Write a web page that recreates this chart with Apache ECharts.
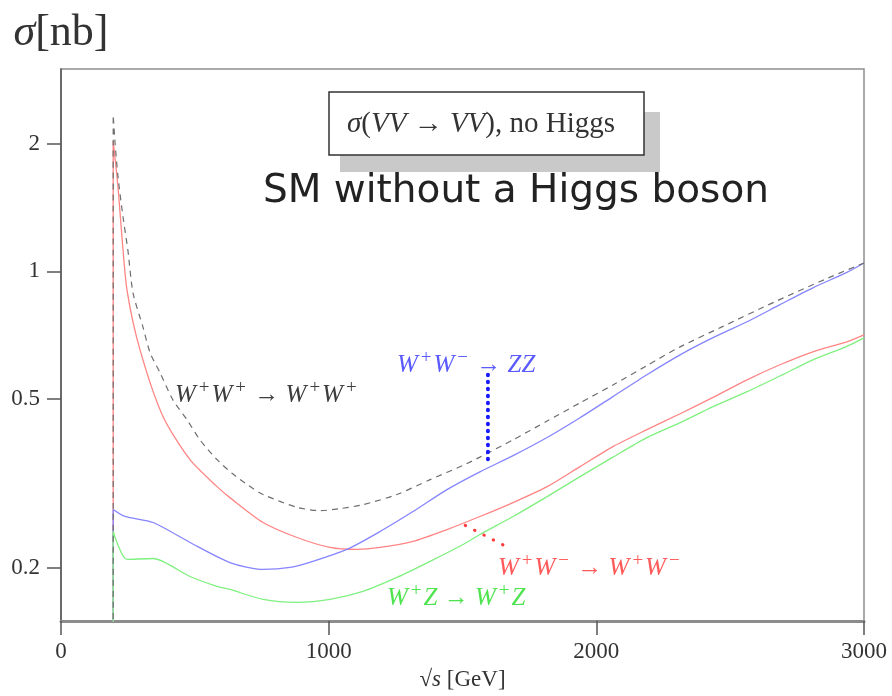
<!DOCTYPE html>
<html>
<head>
<meta charset="utf-8">
<script src="https://cdn.jsdelivr.net/npm/echarts@6/dist/echarts.min.js"></script>
<style>
  html, body { margin: 0; padding: 0; background: #ffffff; }
  #chart { width: 892px; height: 696px; }
</style>
</head>
<body>
<div id="chart"></div>
<script>
// Cross sections sigma(VV -> VV) without a Higgs boson.
// Energies are sqrt(s) in GeV, cross sections in nb. Each curve starts with a
// vertical rise at the production threshold (first point lies below the axis).

const xTicks = [0, 1000, 2000, 3000];
const yTicks = [0.2, 0.5, 1, 2];

// W+W+ -> W+W+ (dashed grey)
const wpwpEnergy = [195, 195, 202, 213, 232, 250, 269, 306, 333, 370, 418, 471, 519, 583, 640, 700, 755, 882, 968, 1042, 1128, 1255, 1379, 1502, 1565, 1689, 1816, 1939, 2062, 2189, 2313, 2469, 2667, 2866, 3000];
const wpwpSigma  = [0.10, 2.335, 2.01, 1.67, 1.34, 1.12, 0.89, 0.74, 0.643, 0.577, 0.498, 0.447, 0.401, 0.360, 0.334, 0.313, 0.298, 0.278, 0.273, 0.276, 0.282, 0.298, 0.323, 0.349, 0.365, 0.401, 0.444, 0.490, 0.540, 0.600, 0.664, 0.740, 0.848, 0.965, 1.047];

// W+W- -> W+W- (red)
const wwEnergy = [195, 195, 213, 228, 247, 295, 381, 482, 583, 631, 755, 882, 1005, 1106, 1192, 1315, 1442, 1565, 1689, 1816, 1939, 2062, 2189, 2313, 2436, 2563, 2686, 2809, 2936, 3000];
const wwSigma  = [0.10, 2.03, 1.58, 1.20, 0.90, 0.654, 0.455, 0.360, 0.311, 0.293, 0.256, 0.236, 0.2236, 0.2212, 0.2236, 0.231, 0.2464, 0.2645, 0.2853, 0.311, 0.3467, 0.3864, 0.4237, 0.462, 0.505, 0.5554, 0.6026, 0.6466, 0.6826, 0.7087];

// W+W- -> ZZ (blue)
const zzEnergy = [195, 195, 239, 344, 482, 631, 755, 856, 941, 1068, 1192, 1315, 1442, 1565, 1689, 1816, 1939, 2062, 2189, 2313, 2436, 2563, 2686, 2809, 2936, 3000];
const zzSigma  = [0.10, 0.2747, 0.2645, 0.256, 0.2297, 0.206, 0.1984, 0.2006, 0.2073, 0.2212, 0.2438, 0.2717, 0.306, 0.337, 0.368, 0.406, 0.452, 0.507, 0.571, 0.636, 0.698, 0.761, 0.835, 0.915, 0.995, 1.047];

// W+Z -> W+Z (green)
const wzEnergy = [195, 195, 247, 344, 482, 583, 631, 755, 882, 1005, 1128, 1255, 1379, 1502, 1565, 1689, 1816, 1939, 2062, 2189, 2313, 2436, 2563, 2686, 2809, 2936, 3000];
const wzSigma  = [0.10, 0.2438, 0.2095, 0.2106, 0.191, 0.181, 0.178, 0.1687, 0.166, 0.1687, 0.1761, 0.190, 0.2073, 0.2272, 0.2399, 0.2645, 0.2946, 0.3284, 0.365, 0.4057, 0.440, 0.480, 0.5206, 0.567, 0.619, 0.666, 0.6975];

// Pointers from the curve labels to their curves
const zzPointerEnergy = [1595, 1595];
const zzPointerSigma  = [0.571, 0.3485];
const wwPointerEnergy = [1510, 1670];
const wwPointerSigma  = [0.252, 0.2236];

const zip = (xs, ys) => xs.map((x, i) => [x, ys[i]]);

const SERIF = '"Liberation Serif", "DejaVu Serif", serif';

function mathLabel(parts, color, size) {
  // parts: array of [kind, text]; kind: 'i' italic, 'u' upright, 's' superscript
  const text = parts.map(p => '{' + p[0] + '|' + p[1] + '}').join('');
  const sup = Math.round(size * 0.74);
  return {
    text: text,
    fill: color,
    font: size + 'px ' + SERIF,
    rich: {
      i: { fontFamily: SERIF, fontStyle: 'italic', fontSize: size, fill: color, lineHeight: size + 8, verticalAlign: 'middle' },
      u: { fontFamily: SERIF, fontSize: size, fill: color, lineHeight: size + 8, verticalAlign: 'middle' },
      s: { fontFamily: SERIF, fontSize: sup, fill: color, lineHeight: sup, verticalAlign: 'top', padding: [0, 2, 0, 3] }
    }
  };
}

const curveStyle = { symbol: 'none', clip: true, smooth: 0.25 };

const chart = echarts.init(document.getElementById('chart'), null, { renderer: 'canvas' });

const option = {
  animation: false,
  backgroundColor: '#ffffff',
  grid: {
    left: 61, right: 28, top: 69, bottom: 74,
    show: true, borderColor: '#8f8f8f', borderWidth: 1.5, backgroundColor: 'transparent'
  },
  xAxis: {
    type: 'value', min: xTicks[0], max: xTicks[xTicks.length - 1], interval: 1000,
    axisLine: { onZero: false, lineStyle: { color: '#8c8c8c', width: 3 } },
    axisTick: { show: true, length: 14, lineStyle: { color: '#555555', width: 1.5 } },
    axisLabel: {
      margin: 19, fontFamily: SERIF, fontSize: 23, color: '#333333',
      formatter: v => String(v)
    },
    splitLine: { show: false },
    name: '√{i|s} [GeV]',
    nameLocation: 'middle', nameGap: 47,
    nameTextStyle: {
      fontFamily: SERIF, fontSize: 23, color: '#333333',
      rich: { i: { fontFamily: SERIF, fontStyle: 'italic', fontSize: 23, color: '#333333' } }
    }
  },
  yAxis: {
    type: 'log', min: 0.15, max: 3,
    axisLine: { onZero: false, lineStyle: { color: '#555555', width: 1.5 } },
    axisTick: { show: true, length: 14, customValues: yTicks, lineStyle: { color: '#555555', width: 1.5 } },
    axisLabel: { margin: 21, customValues: yTicks, fontFamily: SERIF, fontSize: 23, color: '#333333' },
    splitLine: { show: false },
    minorTick: { show: false },
    name: '{i|σ}[nb]',
    nameLocation: 'end', nameGap: 14,
    nameTextStyle: {
      fontFamily: SERIF, fontSize: 44, color: '#333333',
      rich: { i: { fontFamily: SERIF, fontStyle: 'italic', fontSize: 44, color: '#333333' } }
    }
  },
  series: [
    Object.assign({
      name: 'W+W- -> W+W-', type: 'line', data: zip(wwEnergy, wwSigma), z: 2,
      lineStyle: { color: '#ff8585', width: 1.3 }
    }, curveStyle),
    Object.assign({
      name: 'W+W- -> ZZ', type: 'line', data: zip(zzEnergy, zzSigma), z: 2,
      lineStyle: { color: '#8585ff', width: 1.3 }
    }, curveStyle),
    Object.assign({
      name: 'W+Z -> W+Z', type: 'line', data: zip(wzEnergy, wzSigma), z: 2,
      lineStyle: { color: '#7ff07f', width: 1.3 }
    }, curveStyle),
    Object.assign({
      name: 'W+W+ -> W+W+', type: 'line', data: zip(wpwpEnergy, wpwpSigma), z: 3,
      lineStyle: { color: '#6e6e6e', width: 1.2, type: [6, 5] }
    }, curveStyle),
    {
      name: 'ZZ pointer', type: 'line', data: zip(zzPointerEnergy, zzPointerSigma),
      symbol: 'none', clip: true, z: 4,
      lineStyle: { color: '#1a1aff', width: 4, type: [0.5, 6.5], cap: 'round' }
    },
    {
      name: 'WW pointer', type: 'line', data: zip(wwPointerEnergy, wwPointerSigma),
      symbol: 'none', clip: true, z: 4,
      lineStyle: { color: '#ff3b3b', width: 3, type: [0.5, 10], cap: 'round' }
    }
  ],
  graphic: [
    // boxed caption with drop shadow
    { type: 'rect', shape: { x: 340, y: 112, width: 320, height: 60 }, style: { fill: '#c9c9c9' }, z: 10 },
    { type: 'rect', shape: { x: 329, y: 92, width: 315, height: 63 }, style: { fill: '#ffffff', stroke: '#333333', lineWidth: 1.5 }, z: 11 },
    {
      type: 'text', x: 347, y: 124, z: 12,
      style: Object.assign(mathLabel([
        ['i', 'σ'], ['u', '('], ['i', 'VV'], ['u', ' → '], ['i', 'VV'], ['u', '), no Higgs']
      ], '#333333', 29), { verticalAlign: 'middle', align: 'left' })
    },
    {
      type: 'text', x: 263, y: 192, z: 12,
      style: {
        text: 'SM without a Higgs boson',
        font: '39px "DejaVu Sans", sans-serif',
        fill: '#222222', verticalAlign: 'middle', align: 'left'
      }
    },
    // curve labels
    {
      type: 'text', x: 175, y: 395, z: 12,
      style: Object.assign(mathLabel([
        ['i', 'W'], ['s', '+'], ['i', 'W'], ['s', '+'], ['u', ' → '], ['i', 'W'], ['s', '+'], ['i', 'W'], ['s', '+']
      ], '#3d3d3d', 25), { verticalAlign: 'middle', align: 'left' })
    },
    {
      type: 'text', x: 397, y: 365, z: 12,
      style: Object.assign(mathLabel([
        ['i', 'W'], ['s', '+'], ['i', 'W'], ['s', '−'], ['u', ' → '], ['i', 'ZZ']
      ], '#5a5aff', 25), { verticalAlign: 'middle', align: 'left' })
    },
    {
      type: 'text', x: 498, y: 568, z: 12,
      style: Object.assign(mathLabel([
        ['i', 'W'], ['s', '+'], ['i', 'W'], ['s', '−'], ['u', ' → '], ['i', 'W'], ['s', '+'], ['i', 'W'], ['s', '−']
      ], '#ff5a5a', 25), { verticalAlign: 'middle', align: 'left' })
    },
    {
      type: 'text', x: 387, y: 598, z: 12,
      style: Object.assign(mathLabel([
        ['i', 'W'], ['s', '+'], ['i', 'Z'], ['u', ' → '], ['i', 'W'], ['s', '+'], ['i', 'Z']
      ], '#4fe34f', 25), { verticalAlign: 'middle', align: 'left' })
    }
  ]
};

chart.setOption(option);
</script>
</body>
</html>
